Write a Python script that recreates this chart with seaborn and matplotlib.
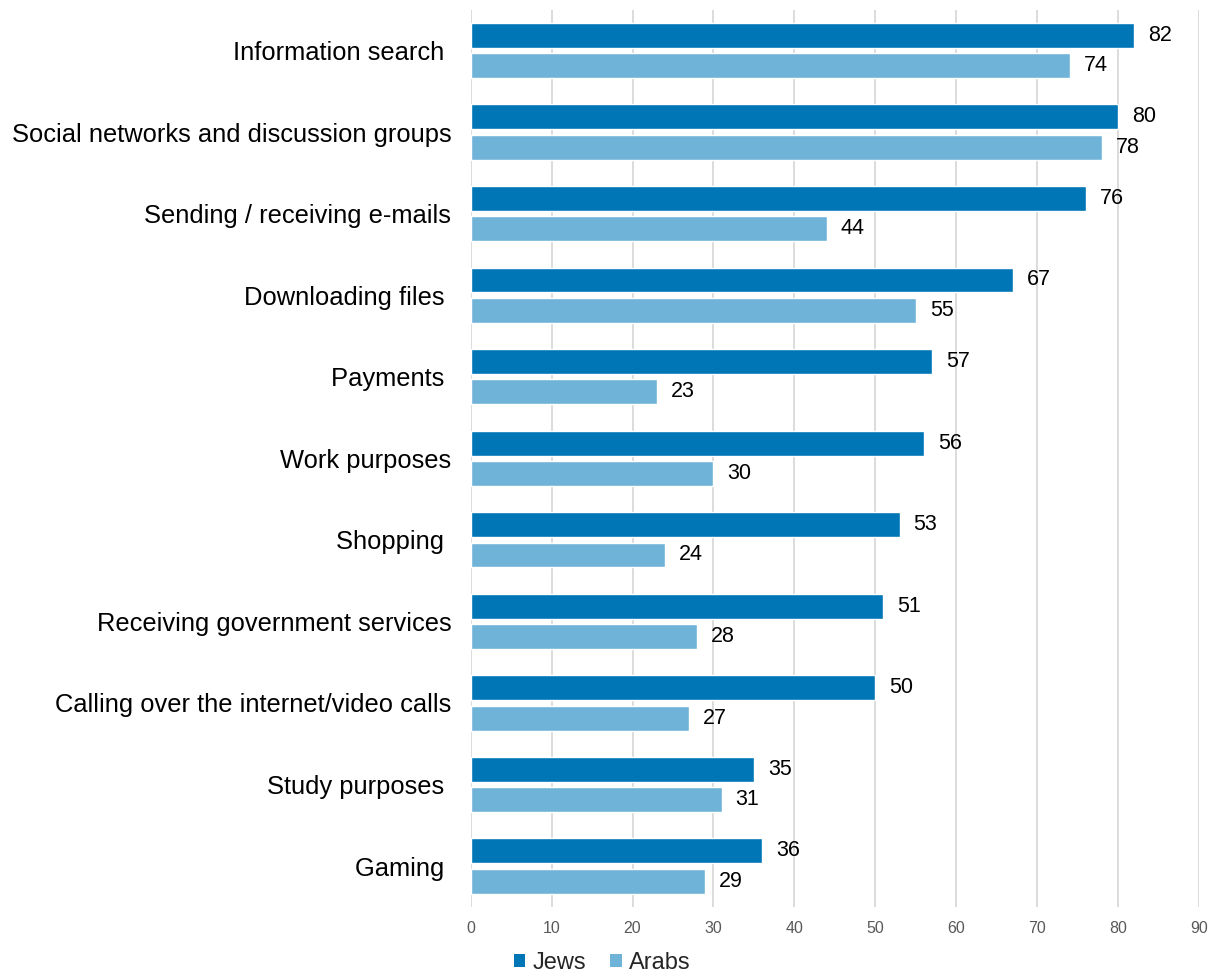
import matplotlib
matplotlib.use("Agg")
import matplotlib.pyplot as plt
import seaborn as sns
import pandas as pd
from matplotlib.patches import Patch

categories = [
    "Information search ",
    "Social networks and discussion groups",
    "Sending / receiving e-mails",
    "Downloading files ",
    "Payments ",
    "Work purposes",
    "Shopping ",
    "Receiving government services",
    "Calling over the internet/video calls",
    "Study purposes ",
    "Gaming ",
]
jews = [82, 80, 76, 67, 57, 56, 53, 51, 50, 35, 36]
arabs = [74, 78, 44, 55, 23, 30, 24, 28, 27, 31, 29]
groups = ["Jews", "Arabs"]
x_ticks = [0, 10, 20, 30, 40, 50, 60, 70, 80, 90]

colors = {"Jews": "#0076B6", "Arabs": "#70B3D9"}

df = pd.DataFrame({
    "category": categories * 2,
    "group": ["Jews"] * len(categories) + ["Arabs"] * len(categories),
    "value": jews + arabs,
})

sns.set_theme(style="white")
plt.rcParams["font.family"] = ["Liberation Sans", "DejaVu Sans"]
narrow = ["Liberation Sans Narrow", "Liberation Sans"]

fig = plt.figure(figsize=(12.1, 9.74), dpi=100)
ax = fig.add_axes([0.389, 0.069, 0.602, 0.921])

sns.barplot(
    data=df, y="category", x="value", hue="group", order=categories,
    hue_order=groups, palette=colors, orient="h", width=0.744, gap=0.18,
    saturation=1, legend=False, ax=ax,
)

ax.set_xlim(0, 90)
ax.set_ylim(len(categories) - 0.5, -0.5)
ax.set_xticks(x_ticks)
ax.grid(axis="x", color="#D9D9D9", linewidth=1.3)
ax.set_axisbelow(True)
for s in ax.spines.values():
    s.set_visible(False)
ax.set_xlabel("")
ax.set_ylabel("")
ax.tick_params(axis="y", labelsize=18.4, colors="black", length=0, pad=14)
ax.tick_params(axis="x", labelsize=11.5, colors="#595959", length=0, pad=10)
for lbl in ax.get_xticklabels():
    lbl.set_family(narrow)

for cont in ax.containers:
    ax.bar_label(cont, fmt="%d", padding=10, fontsize=15.5, color="black")

handles = [Patch(facecolor=colors[g], edgecolor="none") for g in groups]
fig.legend(
    handles, groups, loc="center", bbox_to_anchor=(602 / 1210, 1 - 963 / 974),
    ncol=2, frameon=False, handlelength=0.5, handleheight=0.5,
    handletextpad=0.3, columnspacing=1.0,
    prop={"family": narrow, "size": 17},
)

fig.savefig("out.png", dpi=100, facecolor="white")
